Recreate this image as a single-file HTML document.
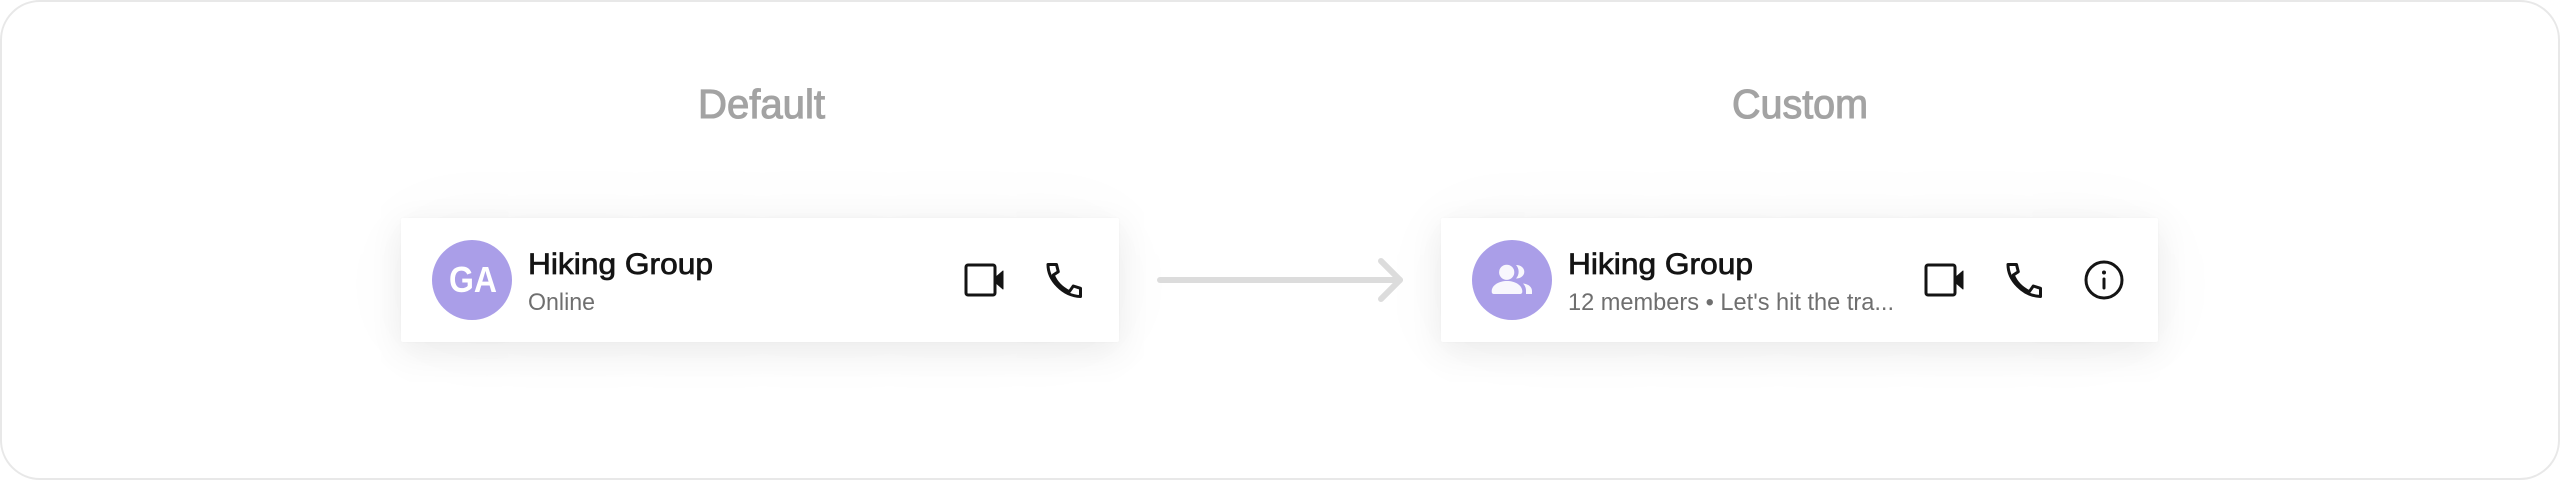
<!DOCTYPE html>
<html lang="en">
<head>
<meta charset="utf-8">
<title>Default vs Custom</title>
<style>
html,body{margin:0;padding:0;background:#fff;}
#wrap{position:relative;width:2560px;height:480px;overflow:hidden;background:#fff;font-family:"Liberation Sans",sans-serif;}
#frame{position:absolute;left:0;top:0;width:2560px;height:480px;box-sizing:border-box;border:2px solid #e8e8e8;border-radius:40px;background:#fff;}
.card{position:absolute;top:218px;height:124px;background:#fff;border-radius:2px;box-shadow:0 8px 34px rgba(0,0,0,.075),0 4px 90px rgba(0,0,0,.03),0 0 2px rgba(0,0,0,.03);}
svg{position:absolute;left:0;top:0;}
text{font-family:"Liberation Sans",sans-serif;}
</style>
</head>
<body>
<div id="wrap">
<div id="frame"></div>
<div class="card" style="left:401px;width:718px;"></div>
<div class="card" style="left:1441px;width:717px;"></div>
<svg width="2560" height="480" viewBox="0 0 2560 480" xmlns="http://www.w3.org/2000/svg">
  <!-- headings -->
  <text x="698" y="118" font-size="41" fill="#a3a3a3" stroke="#a3a3a3" stroke-width="1.1" textLength="127" lengthAdjust="spacingAndGlyphs">Default</text>
  <text x="1732" y="118" font-size="41" fill="#a3a3a3" stroke="#a3a3a3" stroke-width="1.1" textLength="136" lengthAdjust="spacingAndGlyphs">Custom</text>

  <!-- arrow -->
  <g fill="none" stroke="#dcdcdc" stroke-width="6" stroke-linecap="round" stroke-linejoin="round">
    <path d="M1160 280H1400"/>
    <path d="M1381 261L1400 280L1381 299"/>
  </g>

  <!-- default card -->
  <circle cx="472" cy="280" r="40" fill="#aa9ee8"/>
  <text x="449" y="292" font-size="36" font-weight="700" fill="#fff" textLength="48" lengthAdjust="spacingAndGlyphs">GA</text>
  <text x="528" y="274" font-size="30" fill="#141414" stroke="#141414" stroke-width=".75" textLength="185" lengthAdjust="spacingAndGlyphs">Hiking Group</text>
  <text x="528" y="310" font-size="24" fill="#6f6f6f" textLength="67" lengthAdjust="spacingAndGlyphs">Online</text>

  <g fill="none" stroke="#141414" stroke-width="3" stroke-linejoin="round" stroke-linecap="round">
    <rect x="966" y="265" width="29" height="30" rx="2"/>
    <path d="M996 277L1003 271V289L996 283Z" fill="#141414" stroke-width="1"/>
    <path d="M1048 264.5H1056.5L1058.3 271.7L1053.3 275C1056 282 1062 288 1069.3 291.7L1073.3 286L1080.5 288.3V296.5C1063 296 1048 280 1048 264.5Z"/>
  </g>

  <!-- custom card -->
  <circle cx="1512" cy="280" r="40" fill="#aa9ee8"/>
  <g fill="#f8f7fd">
    <circle cx="1506.7" cy="272.3" r="7.6"/>
    <path d="M1494 294Q1491.5 294 1491.7 291C1492 285 1499 281 1507 281C1515 281 1522 285 1522.3 291Q1522.5 294 1520 294Z"/>
    <path d="M1516 265C1521 265 1524.3 268 1524.3 271.8C1524.3 275.6 1521 278.5 1516 278.5C1519.5 275 1519.5 268.5 1516 265Z"/>
    <path d="M1523 283.5C1528.5 284 1532 287 1532 291V294H1526V290.5C1526 288 1525 285.5 1523 283.5Z"/>
  </g>
  <text x="1568" y="274" font-size="30" fill="#141414" stroke="#141414" stroke-width=".75" textLength="185" lengthAdjust="spacingAndGlyphs">Hiking Group</text>
  <text x="1568" y="310" font-size="24" fill="#6f6f6f" textLength="326" lengthAdjust="spacingAndGlyphs">12 members • Let's hit the tra...</text>

  <g fill="none" stroke="#141414" stroke-width="3" stroke-linejoin="round" stroke-linecap="round">
    <rect x="1926" y="265" width="29" height="30" rx="2"/>
    <path d="M1956 277L1963 271V289L1956 283Z" fill="#141414" stroke-width="1"/>
    <path d="M2008 264.5H2016.5L2018.3 271.7L2013.3 275C2016 282 2022 288 2029.3 291.7L2033.3 286L2040.5 288.3V296.5C2023 296 2008 280 2008 264.5Z"/>
    <circle cx="2104" cy="280" r="18"/>
    <path d="M2104 279V288"/>
  </g>
  <circle cx="2104" cy="272.5" r="2" fill="#141414"/>
</svg>
</div>
</body>
</html>
